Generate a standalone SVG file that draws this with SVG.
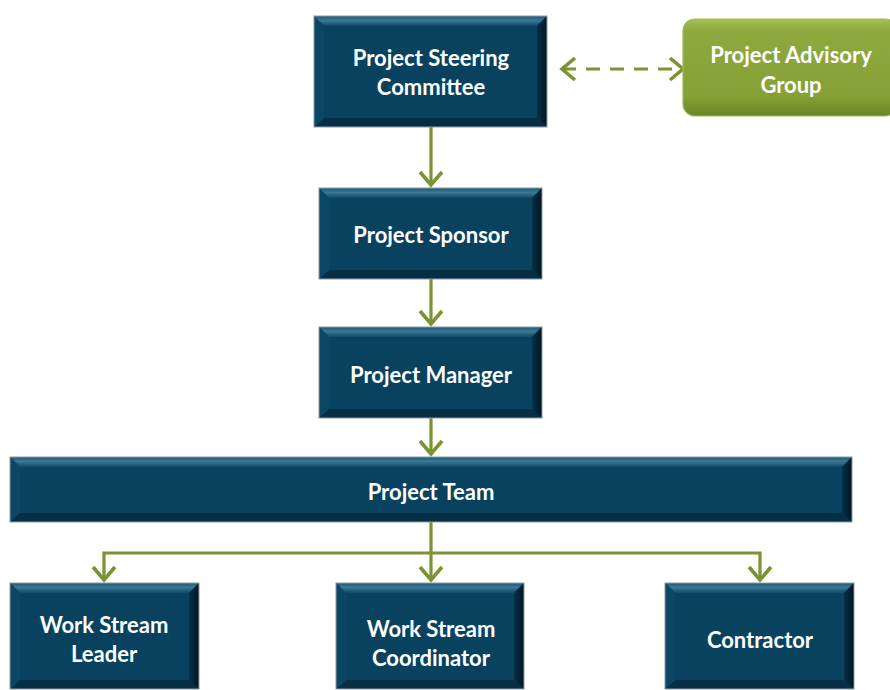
<svg xmlns="http://www.w3.org/2000/svg" width="890" height="690" viewBox="0 0 890 690">
  <defs>
    <style>
      .base { fill: #08425f; }
      .edge { fill: none; stroke: #8b9ba6; stroke-width: 1; }
      .bt { fill: url(#bevTop); }
      .bb { fill: #062f45; }
      .bl { fill: #0a4764; }
      .br { fill: url(#bevRight); }
      .lbl { font-family: Lato, "Open Sans", "Liberation Sans", sans-serif; font-weight: bold; font-size: 22px; fill: #ffffff; text-anchor: middle; }
      .link { fill: none; stroke: #7a9432; stroke-width: 3.2; }
      .dash { stroke-dasharray: 14 10; }
    </style>
    <linearGradient id="bevTop" x1="0" y1="0" x2="0" y2="1">
      <stop offset="0" stop-color="#1f5a76"/>
      <stop offset="0.45" stop-color="#3a7894"/>
      <stop offset="1" stop-color="#0e4a68"/>
    </linearGradient>
    <linearGradient id="bevRight" x1="0" y1="0" x2="1" y2="0">
      <stop offset="0" stop-color="#063049"/>
      <stop offset="1" stop-color="#021622"/>
    </linearGradient>
    <linearGradient id="greenFill" x1="0" y1="0" x2="0" y2="1">
      <stop offset="0" stop-color="#a6c056"/>
      <stop offset="0.12" stop-color="#8ea93e"/>
      <stop offset="0.8" stop-color="#85a036"/>
      <stop offset="1" stop-color="#6a8426"/>
    </linearGradient>
    <marker id="chev" viewBox="-17 -14 20 28" markerWidth="20" markerHeight="28" refX="0" refY="0" orient="auto-start-reverse" markerUnits="userSpaceOnUse" overflow="visible">
      <path d="M-13,-11 L0,0 L-13,11" fill="none" stroke="#7a9432" stroke-width="3.6"/>
    </marker>
  </defs>

  <!-- connectors -->
  <g id="connectors">
    <path class="link" d="M431,127 V185" marker-end="url(#chev)"/>
    <path class="link" d="M431,279 V324" marker-end="url(#chev)"/>
    <path class="link" d="M431,418 V454" marker-end="url(#chev)"/>
    <path class="link" d="M431,522 V580" marker-end="url(#chev)"/>
    <path class="link" d="M431,553 H104 V580" marker-end="url(#chev)"/>
    <path class="link" d="M431,553 H760 V580" marker-end="url(#chev)"/>
    <path class="link dash" d="M562,69 H683" marker-start="url(#chev)" marker-end="url(#chev)"/>
  </g>

  <!-- Project Steering Committee: 314,16 233x111 -->
  <g id="steering">
    <rect class="base" x="314" y="16" width="233" height="111"/>
    <polygon class="bt" points="314,16 547,16 537,26 324,26"/>
    <polygon class="bb" points="314,127 547,127 537,118 324,118"/>
    <polygon class="bl" points="314,16 324,26 324,118 314,127"/>
    <polygon class="br" points="547,16 537,26 537,118 547,127"/>
    <rect class="edge" x="314" y="16" width="233" height="111"/>
    <text class="lbl" x="431" y="66">Project Steering</text>
    <text class="lbl" x="431" y="95">Committee</text>
  </g>

  <!-- Project Advisory Group -->
  <g id="advisory">
    <rect x="683" y="19" width="214" height="97" rx="12" fill="url(#greenFill)" stroke="#9fb85a" stroke-width="1.2"/>
    <text class="lbl" x="791" y="63">Project Advisory</text>
    <text class="lbl" x="791" y="93">Group</text>
  </g>

  <!-- Project Sponsor: 319,188 223x91 -->
  <g id="sponsor">
    <rect class="base" x="319" y="188" width="223" height="91"/>
    <polygon class="bt" points="319,188 542,188 532,198 329,198"/>
    <polygon class="bb" points="319,279 542,279 532,270 329,270"/>
    <polygon class="bl" points="319,188 329,198 329,270 319,279"/>
    <polygon class="br" points="542,188 532,198 532,270 542,279"/>
    <rect class="edge" x="319" y="188" width="223" height="91"/>
    <text class="lbl" x="431" y="243">Project Sponsor</text>
  </g>

  <!-- Project Manager: 319,327 223x91 -->
  <g id="manager">
    <rect class="base" x="319" y="327" width="223" height="91"/>
    <polygon class="bt" points="319,327 542,327 532,337 329,337"/>
    <polygon class="bb" points="319,418 542,418 532,409 329,409"/>
    <polygon class="bl" points="319,327 329,337 329,409 319,418"/>
    <polygon class="br" points="542,327 532,337 532,409 542,418"/>
    <rect class="edge" x="319" y="327" width="223" height="91"/>
    <text class="lbl" x="431" y="383">Project Manager</text>
  </g>

  <!-- Project Team: 10,457 842x65 -->
  <g id="team">
    <rect class="base" x="10" y="457" width="842" height="65"/>
    <polygon class="bt" points="10,457 852,457 842,467 20,467"/>
    <polygon class="bb" points="10,522 852,522 842,513 20,513"/>
    <polygon class="bl" points="10,457 20,467 20,513 10,522"/>
    <polygon class="br" points="852,457 842,467 842,513 852,522"/>
    <rect class="edge" x="10" y="457" width="842" height="65"/>
    <text class="lbl" x="431" y="500">Project Team</text>
  </g>

  <!-- Work Stream Leader: 10,583 189x106 -->
  <g id="leader">
    <rect class="base" x="10" y="583" width="189" height="106"/>
    <polygon class="bt" points="10,583 199,583 189,593 20,593"/>
    <polygon class="bb" points="10,689 199,689 189,680 20,680"/>
    <polygon class="bl" points="10,583 20,593 20,680 10,689"/>
    <polygon class="br" points="199,583 189,593 189,680 199,689"/>
    <rect class="edge" x="10" y="583" width="189" height="106"/>
    <text class="lbl" x="104" y="633">Work Stream</text>
    <text class="lbl" x="104" y="662">Leader</text>
  </g>

  <!-- Work Stream Coordinator: 336,583 188x106 -->
  <g id="coordinator">
    <rect class="base" x="336" y="583" width="188" height="106"/>
    <polygon class="bt" points="336,583 524,583 514,593 346,593"/>
    <polygon class="bb" points="336,689 524,689 514,680 346,680"/>
    <polygon class="bl" points="336,583 346,593 346,680 336,689"/>
    <polygon class="br" points="524,583 514,593 514,680 524,689"/>
    <rect class="edge" x="336" y="583" width="188" height="106"/>
    <text class="lbl" x="431" y="637">Work Stream</text>
    <text class="lbl" x="431" y="666">Coordinator</text>
  </g>

  <!-- Contractor: 665,583 189x106 -->
  <g id="contractor">
    <rect class="base" x="665" y="583" width="189" height="106"/>
    <polygon class="bt" points="665,583 854,583 844,593 675,593"/>
    <polygon class="bb" points="665,689 854,689 844,680 675,680"/>
    <polygon class="bl" points="665,583 675,593 675,680 665,689"/>
    <polygon class="br" points="854,583 844,593 844,680 854,689"/>
    <rect class="edge" x="665" y="583" width="189" height="106"/>
    <text class="lbl" x="760" y="648">Contractor</text>
  </g>
</svg>
